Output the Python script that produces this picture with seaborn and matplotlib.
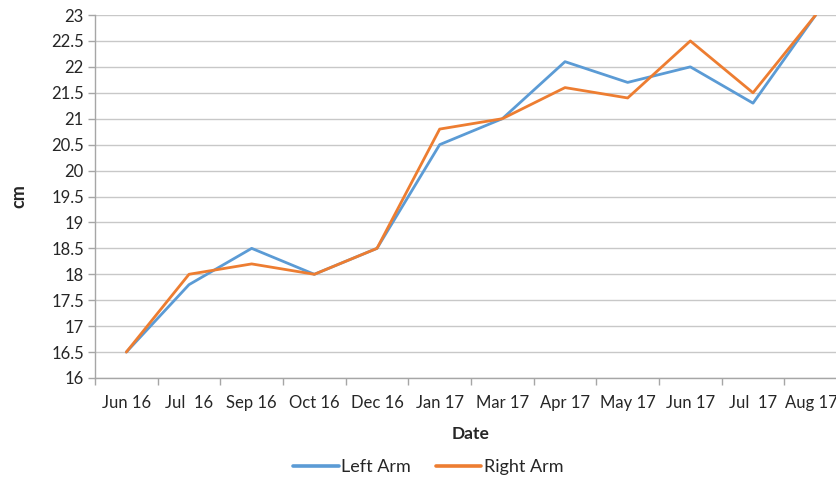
import pandas as pd
import matplotlib.pyplot as plt
import matplotlib.transforms as mtransforms
import seaborn as sns
from matplotlib.ticker import MultipleLocator, FixedLocator, NullFormatter

# Data
dates = ['Jun 16', 'Jul  16', 'Sep 16', 'Oct 16', 'Dec 16', 'Jan 17',
         'Mar 17', 'Apr 17', 'May 17', 'Jun 17', 'Jul  17', 'Aug 17']
left_arm = [16.5, 17.8, 18.5, 18.0, 18.5, 20.5, 21.0, 22.1, 21.7, 22.0, 21.3, 23.0]
right_arm = [16.5, 18.0, 18.2, 18.0, 18.5, 20.8, 21.0, 21.6, 21.4, 22.5, 21.5, 23.0]
series_names = ['Left Arm', 'Right Arm']
colors = ['#5B9BD5', '#ED7D31']

df = pd.DataFrame({
    'Date': dates * 2,
    'cm': left_arm + right_arm,
    'Arm': [series_names[0]] * len(dates) + [series_names[1]] * len(dates),
})

sns.set_style('white')
plt.rcParams['font.family'] = ['Lato', 'DejaVu Sans']

fig = plt.figure(figsize=(8.37, 4.79), dpi=100)
# axes extend a little past the right edge, as in the reference
ax = fig.add_axes([95 / 837, 1 - 378 / 479, 752 / 837, 363 / 479])

sns.lineplot(data=df, x='Date', y='cm', hue='Arm', palette=colors,
             linewidth=2.0, sort=False, ax=ax, legend=True)

ax.set_ylim(16, 23)
ax.set_xlim(-0.5, len(dates) - 0.5)
ax.yaxis.set_major_locator(MultipleLocator(0.5))
ax.set_yticklabels([f'{v:g}' for v in ax.get_yticks()])
ax.grid(axis='y', color='#c8c8c8', linewidth=1.0)
ax.set_axisbelow(True)

# tick marks between categories, labels at centers
ax.xaxis.set_minor_locator(FixedLocator([i - 0.5 for i in range(len(dates) + 1)]))
ax.xaxis.set_minor_formatter(NullFormatter())
ax.tick_params(axis='x', which='major', length=0, pad=12, labelsize=12, colors='#262626')
ax.tick_params(axis='x', which='minor', length=5, width=1, color='#a6a6a6', bottom=True)
ax.tick_params(axis='y', length=5, width=1, color='#a6a6a6', left=True,
               labelsize=12, labelcolor='#262626', pad=3)

# nudge the last date label so it stays inside the picture
last = ax.get_xticklabels()[-1]
last.set_transform(last.get_transform() +
                   mtransforms.ScaledTranslation(-4 / 100, 0, fig.dpi_scale_trans))

for side in ['top', 'right']:
    ax.spines[side].set_visible(False)
for side in ['left', 'bottom']:
    ax.spines[side].set_color('#a6a6a6')
    ax.spines[side].set_linewidth(1.0)

ax.set_xlabel('Date', fontsize=12.5, fontweight='bold', labelpad=11, color='#262626')
ax.set_ylabel('cm', fontsize=13, fontweight='bold', labelpad=17, color='#262626')

handles, labels = ax.get_legend_handles_labels()
for h in handles:
    h.set_linewidth(2.6)
ax.legend_.remove()
fig.legend(handles, labels, loc='center', bbox_to_anchor=(0.512, 0.025),
           ncol=2, frameon=False, fontsize=13, handlelength=2.5,
           handletextpad=0.15, columnspacing=1.4, labelcolor='#262626')

fig.savefig('out.png', dpi=100)
